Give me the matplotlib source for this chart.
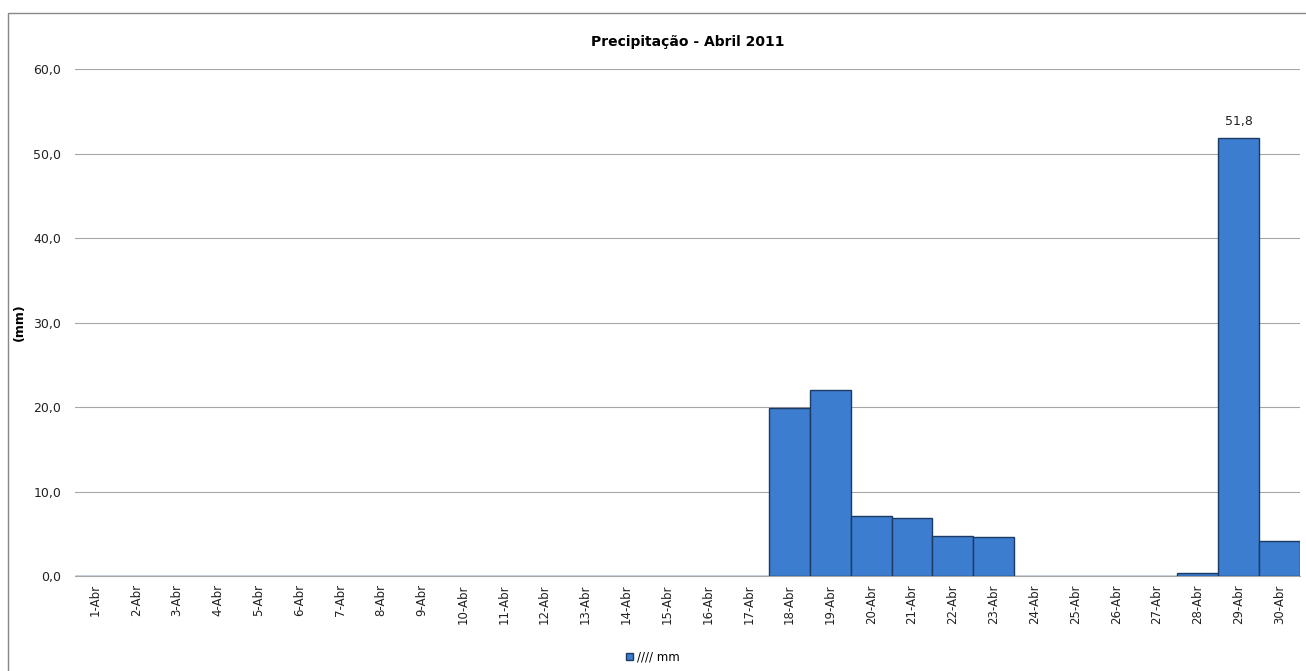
import matplotlib
matplotlib.use('Agg')
import matplotlib.pyplot as plt
from matplotlib.patches import Rectangle

# daily rainfall, April 2011
days = ['%d-Abr' % d for d in range(1, 31)]
rain = [0, 0, 0, 0, 0, 0, 0, 0, 0, 0,
        0, 0, 0, 0, 0, 0, 0, 19.9, 22.0, 7.1,
        6.9, 4.7, 4.6, 0, 0, 0, 0, 0.4, 51.8, 4.2]
yticks = [0, 10, 20, 30, 40, 50, 60]

plt.rcParams['font.family'] = ['DejaVu Sans']

fig = plt.figure(figsize=(13.06, 6.71), dpi=100)
fig.patches.append(Rectangle((0.006, -0.01), 1.1, 0.99, transform=fig.transFigure,
                             fill=False, edgecolor='#888888', linewidth=1.0))
ax = fig.add_axes([0.0574, 0.1416, 0.938, 0.7554])

x = range(len(days))
bars = ax.bar(x, rain, width=1.0, color='#3c7dcf', edgecolor='#1d3a63',
              linewidth=1.0, label='//// mm', zorder=3)

ax.set_xlim(-0.5, len(days) - 0.5)
ax.set_ylim(0, 60)
ax.set_yticks(yticks)
ax.set_yticklabels([('%.1f' % v).replace('.', ',') for v in yticks])
ax.grid(axis='y', color='#a6a6a6', linewidth=0.8, zorder=0)
ax.set_xticks(list(x))
ax.set_xticklabels(days, rotation=90, fontsize=8.5, color='#222222')
ax.tick_params(axis='y', length=0, labelsize=9, pad=10, labelcolor='#222222')
ax.tick_params(axis='x', length=0, pad=6)
for s in ['top', 'right', 'left']:
    ax.spines[s].set_visible(False)
ax.spines['bottom'].set_color('#a6a6a6')

ax.set_ylabel('(mm)', fontsize=9, fontweight='bold')
ax.yaxis.set_label_coords(-0.040, 0.5)
ax.set_title('Precipitação - Abril 2011', fontsize=10, fontweight='bold', pad=17)

# value label on the peak
peak = rain.index(max(rain))
ax.text(peak, rain[peak] + 1.2, ('%.1f' % rain[peak]).replace('.', ','),
        ha='center', va='bottom', fontsize=9, color='#222222')

fig.legend(loc='lower center', bbox_to_anchor=(0.5, -0.005), frameon=False,
           fontsize=8.5, handlelength=0.6, handleheight=0.6, handletextpad=0.3)

fig.savefig('out.png', dpi=100)
